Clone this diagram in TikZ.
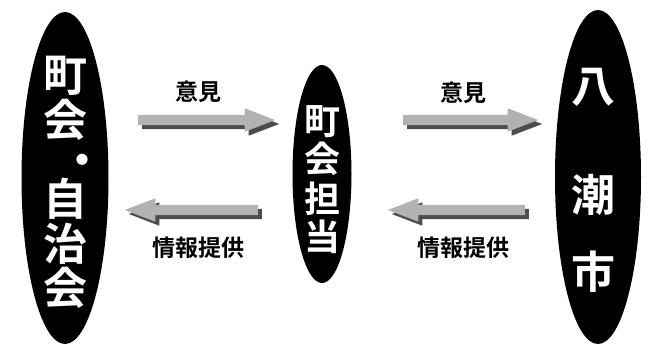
\documentclass[tikz,border=0pt]{standalone}
\usepackage{fontspec}
\newfontfamily\cjk{Noto Sans CJK JP}[BoldFont={Noto Sans CJK JP Bold}]
\usetikzlibrary{shapes.geometric,shapes.arrows,shadows}
\definecolor{arrowgray}{HTML}{B2B2B2}
\definecolor{shadowgray}{HTML}{4D4D4D}
\tikzset{
  oval/.style={ellipse, fill=black, draw=none, inner sep=0pt},
  ovaltext/.style={text=white, font=\cjk\bfseries\fontsize{#1}{#1}\selectfont, inner sep=0pt},
  blockarrow/.style={single arrow, fill=arrowgray, draw=none, inner xsep=0pt, inner ysep=5pt,
    single arrow head extend=6.5pt, single arrow tip angle=42, minimum height=#1, anchor=tail,
    general shadow={fill=shadowgray, shadow xshift=4pt, shadow yshift=-4pt}},
  lbl/.style={text=black, font=\cjk\bfseries\fontsize{23}{23}\selectfont, inner sep=0pt}
}
\begin{document}
\begin{tikzpicture}[x=1pt,y=-1pt]
\useasboundingbox (0,0) rectangle (651,345);
% ovals
\node[oval, minimum width=87pt, minimum height=332pt] (L) at (65,178) {};
\node[oval, minimum width=59pt, minimum height=218pt] (M) at (322,174) {};
\node[oval, minimum width=86pt, minimum height=334pt] (R) at (598,177) {};
% left oval text
\node[ovaltext=44] (l1) at (65,76) {町};
\node[ovaltext=44] (l2) at (65,120) {会};
\node[ovaltext=44, anchor=west] (l3) at (60,165) {・};
\node[ovaltext=44] (l4) at (65,199) {自};
\node[ovaltext=44] (l5) at (65,244) {治};
\node[ovaltext=44] (l6) at (65,288) {会};
% middle oval text
\node[ovaltext=36] (m1) at (322,122) {町};
\node[ovaltext=36] (m2) at (322,159) {会};
\node[ovaltext=36] (m3) at (322,199) {担};
\node[ovaltext=36] (m4) at (322,237) {当};
% right oval text
\node[ovaltext=44] (r1) at (593,87) {八};
\node[ovaltext=44] (r2) at (593,195) {潮};
\node[ovaltext=44] (r3) at (593,272) {市};
% arrows
\node[blockarrow=137pt] (a1) at (138,120) {};
\node[blockarrow=135pt] (a2) at (403,120) {};
\node[blockarrow=133pt, shape border rotate=180] (a3) at (258,210) {};
\node[blockarrow=137pt, shape border rotate=180] (a4) at (525,210) {};
% labels
\node[lbl] (t1) at (198,92) {意見};
\node[lbl] (t2) at (463,93) {意見};
\node[lbl] (t3) at (198,248) {情報提供};
\node[lbl] (t4) at (463,248) {情報提供};
\end{tikzpicture}
\end{document}
